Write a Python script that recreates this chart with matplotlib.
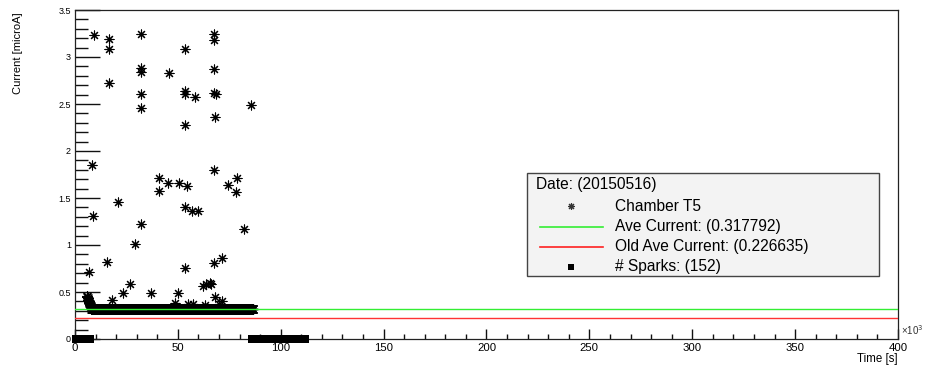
import numpy as np
import matplotlib.pyplot as plt
from matplotlib.patches import Rectangle
from matplotlib.lines import Line2D

plt.rcParams['font.family'] = ['Liberation Sans', 'DejaVu Sans']

# time in units of 10^3 s, current in microA
spike_time = [9.0, 16.5, 16.5, 16.5, 32.0, 32.0, 32.0, 32.0, 32.0, 45.7, 53.5, 53.5, 53.5, 58.3,
              53.5, 67.6, 67.6, 67.6, 68.5, 67.6, 68.0, 85.5,
              8.5, 67.6, 40.8, 45.3, 50.6, 54.3, 40.8, 74.5, 78.9, 78.3, 20.7, 53.5, 57.0, 59.6,
              8.9, 32.0, 82.1,
              29.2, 15.7, 53.5, 67.6, 71.3, 7.0, 26.7, 23.4, 36.8, 50.2, 62.3, 63.9, 65.6, 66.0,
              68.0, 17.8, 71.3, 48.6, 55.0, 57.5, 70.0, 63.0]
spike_current = [3.23, 3.19, 3.08, 2.72, 3.24, 2.88, 2.84, 2.61, 2.46, 2.83, 3.09, 2.64, 2.61, 2.57,
                 2.28, 3.25, 3.18, 2.87, 2.61, 2.62, 2.36, 2.49,
                 1.85, 1.80, 1.71, 1.66, 1.66, 1.63, 1.57, 1.64, 1.71, 1.56, 1.46, 1.40, 1.36, 1.36,
                 1.31, 1.22, 1.17,
                 1.01, 0.82, 0.76, 0.81, 0.86, 0.71, 0.58, 0.49, 0.49, 0.49, 0.56, 0.58, 0.60, 0.59,
                 0.45, 0.41, 0.40, 0.38, 0.37, 0.37, 0.37, 0.36]

# ramp at switch-on
startup_time = [5.8, 6.0, 6.2, 6.4, 6.6, 6.8, 7.0, 7.2, 7.4, 7.7, 8.0, 8.5, 9.0]
startup_current = [0.46, 0.45, 0.44, 0.42, 0.40, 0.39, 0.38, 0.37, 0.36, 0.35, 0.34, 0.33, 0.33]

# steady readings (dense sampling)
baseline_time = np.arange(8.0, 86.6, 0.1)
baseline_current = np.full(len(baseline_time), 0.318)

# spark times (drawn at 0)
spark_time = np.concatenate([np.arange(0.3, 7.2, 0.4), np.arange(86.0, 111.8, 0.4)])

ave_current = 0.317792
old_ave_current = 0.226635

star = (8, 2, 0)

fig = plt.figure(figsize=(9.29, 3.68), dpi=100)
ax = fig.add_axes([75 / 929, 29 / 368, 823 / 929, 329 / 368])

ax.scatter(baseline_time, baseline_current, marker=star, s=52, c='k', linewidths=0.8, zorder=3)
ax.scatter(startup_time, startup_current, marker=star, s=52, c='k', linewidths=0.8, zorder=3)
ax.scatter(spike_time, spike_current, marker=star, s=42, c='k', linewidths=0.8, zorder=3)
ax.scatter(spark_time, np.zeros(len(spark_time)), marker='s', s=28, c='k', linewidths=0,
           zorder=3, clip_on=False)
ax.axhline(ave_current, color='#33ee33', lw=1.0, zorder=4)
ax.axhline(old_ave_current, color='#ff3333', lw=1.0, zorder=4)

ax.set_xlim(0, 400)
ax.set_ylim(0, 3.5)
ax.set_xticks(np.arange(0, 401, 50))
ax.set_xticks(np.arange(0, 401, 10), minor=True)
ax.set_yticks(np.arange(0, 3.51, 0.5))
ax.set_yticks(np.arange(0, 3.51, 0.1), minor=True)
ax.set_xticklabels([str(v) for v in range(0, 401, 50)])
ax.set_yticklabels(['0', '0.5', '1', '1.5', '2', '2.5', '3', '3.5'])
ax.tick_params(axis='both', which='both', direction='in', color='#111111', width=1.0,
               left=True, bottom=True, right=False, top=False)
ax.tick_params(axis='x', which='major', length=7.2, labelsize=8.2, pad=3)
ax.tick_params(axis='x', which='minor', length=3.6)
ax.tick_params(axis='y', which='major', length=18, labelsize=6.5, pad=3)
ax.tick_params(axis='y', which='minor', length=9.4)
for s in ax.spines.values():
    s.set_linewidth(0.9)
    s.set_color('#222222')

fig.text(18 / 929, 1 - 12 / 368, 'Current [microA]', rotation=90, ha='center', va='top', fontsize=8)
fig.text(898 / 929, 1 - 359 / 368, 'Time [s]', ha='right', va='center', fontsize=8.3)
fig.text(901 / 929, 1 - 330 / 368, '×10$^3$', ha='left', va='center', fontsize=7, color='#333333')

# legend box
fig.patches.append(Rectangle((527 / 929, 1 - 276 / 368), 352 / 929, 103 / 368,
                             transform=fig.transFigure, facecolor='#f3f3f3',
                             edgecolor='#444444', lw=1.0, zorder=5))
fig.text(536 / 929, 1 - 184 / 368, 'Date: (20150516)', ha='left', va='center', fontsize=11.2, zorder=6)
rows = [206, 226.5, 246.5, 266.5]
labels = ['Chamber T5', 'Ave Current: (%g)' % ave_current,
          'Old Ave Current: (%g)' % old_ave_current, '# Sparks: (%d)' % 152]
for r, lab in zip(rows, labels):
    fig.text(615 / 929, 1 - r / 368, lab, ha='left', va='center', fontsize=11.2, zorder=6)
fig.lines.append(Line2D([571 / 929], [1 - rows[0] / 368], marker=star, markersize=5, color='#333333',
                        mew=0.8, transform=fig.transFigure, zorder=6))
fig.lines.append(Line2D([540 / 929, 603 / 929], [1 - rows[1] / 368] * 2, color='#33ee33', lw=1.2,
                        transform=fig.transFigure, zorder=6))
fig.lines.append(Line2D([540 / 929, 603 / 929], [1 - rows[2] / 368] * 2, color='#ff2222', lw=1.2,
                        transform=fig.transFigure, zorder=6))
fig.lines.append(Line2D([571 / 929], [1 - rows[3] / 368], marker='s', markersize=4.5, color='k',
                        mew=0, transform=fig.transFigure, zorder=6))

fig.savefig('out.png', dpi=100)
